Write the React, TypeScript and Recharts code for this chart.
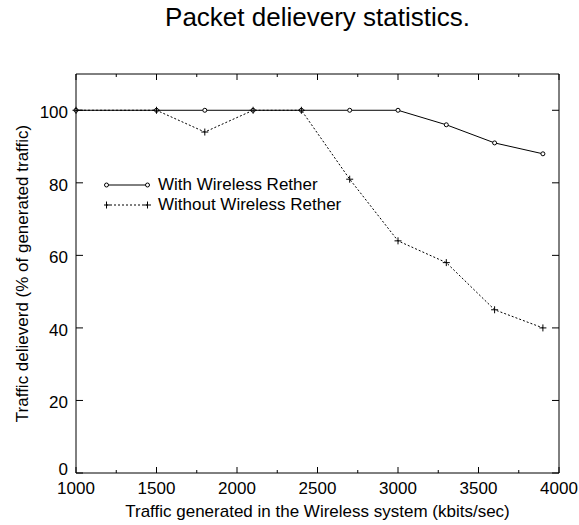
import { LineChart, Line, XAxis, YAxis, ReferenceLine, Legend } from 'recharts'

const traffic = [1000, 1500, 1800, 2100, 2400, 2700, 3000, 3300, 3600, 3900]
const withRether = [100, 100, 100, 100, 100, 100, 100, 96, 91, 88]
const withoutRether = [100, 100, 94, 100, 100, 81, 64, 58, 45, 40]

const xTicks = [1000, 1250, 1500, 1750, 2000, 2250, 2500, 2750, 3000, 3250, 3500, 3750, 4000]
const yTicks = [0, 20, 40, 60, 80, 100]

const seriesNames = ['With Wireless Rether', 'Without Wireless Rether']

const data = traffic.map((t, i) => ({
  traffic: t,
  withR: withRether[i],
  withoutR: withoutRether[i]
}))

// plot frame (matches chart margins below)
const PLOT_LEFT = 76
const PLOT_RIGHT = 559
const PLOT_TOP = 74
const PLOT_BOTTOM = 473

const FONT = '"Liberation Sans", Arial, Helvetica, sans-serif'

const XTick = (props: any) => {
  const { x, payload } = props
  const v = payload.value
  const major = v % 500 === 0
  const len = major ? 6 : 3
  return (
    <g>
      <line x1={x} x2={x} y1={PLOT_BOTTOM} y2={PLOT_BOTTOM - len} stroke="#000" />
      <line x1={x} x2={x} y1={PLOT_TOP} y2={PLOT_TOP + len} stroke="#000" />
      {major && (
        <text x={x} y={PLOT_BOTTOM + 21} textAnchor="middle" fontSize={17} fontFamily={FONT} fill="#000">
          {v}
        </text>
      )}
    </g>
  )
}

const YTick = (props: any) => {
  const { y, payload } = props
  // the 0 label sits higher so it clears the 1000 below it
  const dy = payload.value === 0 ? 2 : 8
  return (
    <g>
      <line x1={PLOT_LEFT} x2={PLOT_LEFT + 7} y1={y} y2={y} stroke="#000" />
      <line x1={PLOT_RIGHT} x2={PLOT_RIGHT - 7} y1={y} y2={y} stroke="#000" />
      <text x={PLOT_LEFT - 8} y={y + dy} textAnchor="end" fontSize={17} fontFamily={FONT} fill="#000">
        {payload.value}
      </text>
    </g>
  )
}

const PlusDot = (props: any) => {
  const { cx, cy, index } = props
  return (
    <path
      key={`p-${index}`}
      d={`M${cx - 3.5},${cy}h7M${cx},${cy - 3.5}v7`}
      stroke="#000"
      strokeWidth={1}
      fill="none"
    />
  )
}

const LegendBox = () => (
  <div style={{ fontFamily: FONT, fontSize: 17, color: '#000' }}>
    {seriesNames.map((name, i) => (
      <div key={name} style={{ display: 'flex', alignItems: 'center', height: 20 }}>
        <svg width={54} height={20}>
          <line
            x1={2}
            x2={44}
            y1={10}
            y2={10}
            stroke="#000"
            strokeWidth={1}
            strokeDasharray={i === 1 ? '2 2' : undefined}
          />
          {i === 0 ? (
            <>
              <circle cx={2.5} cy={10} r={2} fill="#fff" stroke="#000" />
              <circle cx={43.5} cy={10} r={2} fill="#fff" stroke="#000" />
            </>
          ) : (
            <path d="M-1,10h7M2.5,6.5v7M40,10h7M43.5,6.5v7" stroke="#000" />
          )}
        </svg>
        <span style={{ whiteSpace: 'nowrap' }}>{name}</span>
      </div>
    ))}
  </div>
)

export default function App() {
  return (
    <div style={{ position: 'absolute', left: 0, top: 0, width: 579, height: 525, background: '#fff' }}>
      <div
        style={{
          position: 'absolute',
          left: 317.5,
          top: 4,
          transform: 'translateX(-50%)',
          fontFamily: FONT,
          fontSize: 26,
          lineHeight: '26px',
          whiteSpace: 'nowrap',
          color: '#000'
        }}
      >
        Packet delievery statistics.
      </div>
      <LineChart width={579} height={525} data={data} margin={{ top: 74, right: 20, bottom: 0, left: 0 }}>
        <XAxis
          dataKey="traffic"
          type="number"
          domain={[1000, 4000]}
          ticks={xTicks}
          interval={0}
          height={52}
          tickLine={false}
          axisLine={{ stroke: '#000' }}
          tick={<XTick />}
          label={{
            value: 'Traffic generated in the Wireless system (kbits/sec)',
            position: 'insideBottom',
            offset: 8,
            style: { fontFamily: FONT, fontSize: 17, fill: '#000' }
          }}
        />
        <YAxis
          type="number"
          domain={[0, 110]}
          ticks={yTicks}
          interval={0}
          width={76}
          tickLine={false}
          axisLine={{ stroke: '#000' }}
          tick={<YTick />}
          label={{
            value: 'Traffic delieverd (% of generated traffic)',
            angle: -90,
            position: 'insideLeft',
            offset: 22,
            style: { fontFamily: FONT, fontSize: 17, fill: '#000', textAnchor: 'middle' }
          }}
        />
        <ReferenceLine y={110} stroke="#000" />
        <ReferenceLine x={4000} stroke="#000" />
        <Legend
          verticalAlign="middle"
          align="center"
          wrapperStyle={{ left: 104, top: 175, width: 'auto' }}
          content={<LegendBox />}
        />
        <Line
          dataKey="withR"
          name={seriesNames[0]}
          stroke="#000"
          strokeWidth={1}
          dot={{ r: 2, fill: '#fff', stroke: '#000', strokeWidth: 1 }}
          isAnimationActive={false}
        />
        <Line
          dataKey="withoutR"
          name={seriesNames[1]}
          stroke="#000"
          strokeWidth={1}
          strokeDasharray="2 2"
          dot={<PlusDot />}
          isAnimationActive={false}
        />
      </LineChart>
    </div>
  )
}
